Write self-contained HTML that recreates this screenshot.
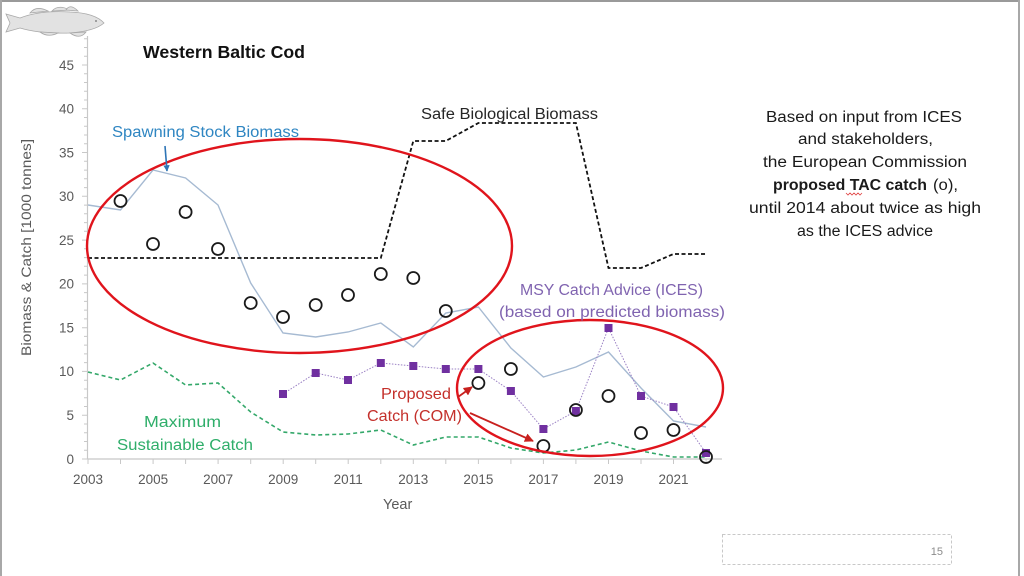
<!DOCTYPE html>
<html><head><meta charset="utf-8"><style>
html,body{margin:0;padding:0;background:#fff;}
svg{display:block;}
text{font-family:"Liberation Sans",sans-serif;}
</style></head><body>
<svg width="1024" height="576" viewBox="0 0 1024 576" xmlns="http://www.w3.org/2000/svg">
<defs>
<marker id="ar" viewBox="0 0 10 10" refX="9" refY="5" markerWidth="5" markerHeight="5" orient="auto"><path d="M0,0 L10,5 L0,10 z" fill="#c8201e"/></marker>
<marker id="ab" viewBox="0 0 10 10" refX="9" refY="5" markerWidth="4" markerHeight="4" orient="auto"><path d="M0,0 L10,5 L0,10 z" fill="#2e75b6"/></marker>
</defs>
<rect width="1024" height="576" fill="#fff"/>
<!-- borders -->
<line x1="0" y1="1" x2="1020" y2="1" stroke="#9a9a9a" stroke-width="2"/>
<line x1="1" y1="0" x2="1" y2="576" stroke="#a8a8a8" stroke-width="2"/>
<line x1="1019" y1="0" x2="1019" y2="576" stroke="#a8a8a8" stroke-width="2"/>

<!-- fish -->
<g stroke="#a8a8a8" stroke-width="0.8" fill="#e2e2e2">
<path d="M6,14 L20,18 Q40,10 70,12 Q95,13 104,23 Q95,31 70,33 Q40,34 20,28 L6,32 L10,23 Z"/>
<path d="M30,13 Q36,5 48,11 Z"/>
<path d="M52,11 Q58,4 70,10 Z"/>
<path d="M66,10 Q70,3 78,11 Z"/>
<path d="M40,32 Q48,38 58,33 Z"/>
<path d="M70,33 Q80,40 86,32 Z"/>
</g>
<circle cx="96" cy="21" r="1" fill="#888"/>

<!-- title -->
<text x="143" y="58" font-size="17.5" font-weight="bold" fill="#111" textLength="162" lengthAdjust="spacingAndGlyphs">Western Baltic Cod</text>

<!-- y axis -->
<g stroke="#c8c8c8" stroke-width="1.2">
<line x1="87.5" y1="36" x2="87.5" y2="459"/>
<line x1="87.5" y1="459" x2="722" y2="459"/>
</g>
<g stroke="#c8c8c8" stroke-width="1">
<path d="M84,450.2H87.5M84,441.5H87.5M84,432.7H87.5M84,424H87.5M84,406.5H87.5M84,397.7H87.5M84,389H87.5M84,380.2H87.5M84,362.6H87.5M84,353.9H87.5M84,345.1H87.5M84,336.4H87.5M84,318.9H87.5M84,310.1H87.5M84,301.4H87.5M84,292.6H87.5M84,275.1H87.5M84,266.3H87.5M84,257.6H87.5M84,248.8H87.5M84,231.3H87.5M84,222.6H87.5M84,213.8H87.5M84,205.1H87.5M84,187.6H87.5M84,178.8H87.5M84,170.1H87.5M84,161.3H87.5M84,143.8H87.5M84,135H87.5M84,126.3H87.5M84,117.5H87.5M84,100H87.5M84,91.3H87.5M84,82.5H87.5M84,73.8H87.5M84,56.2H87.5M84,47.5H87.5M84,38.7H87.5"/>
<path d="M82,459H87.5M82,415.2H87.5M82,371.4H87.5M82,327.7H87.5M82,283.9H87.5M82,240.1H87.5M82,196.3H87.5M82,152.5H87.5M82,108.8H87.5M82,65H87.5"/>
<path d="M88,459V464M120.5,459V464M153.1,459V464M185.6,459V464M218.1,459V464M250.7,459V464M283.2,459V464M315.7,459V464M348.2,459V464M380.8,459V464M413.3,459V464M445.8,459V464M478.4,459V464M510.9,459V464M543.4,459V464M575.9,459V464M608.5,459V464M641,459V464M673.5,459V464M706.1,459V464"/>
</g>
<g font-size="13.5" fill="#5a5a5a" text-anchor="end">
<text x="74" y="464">0</text>
<text x="74" y="420">5</text>
<text x="74" y="376">10</text>
<text x="74" y="332.5">15</text>
<text x="74" y="288.7">20</text>
<text x="74" y="245">25</text>
<text x="74" y="201">30</text>
<text x="74" y="157.3">35</text>
<text x="74" y="113.5">40</text>
<text x="74" y="69.8">45</text>
</g>
<g font-size="13.5" fill="#5a5a5a" text-anchor="middle">
<text x="88" y="484">2003</text>
<text x="153.1" y="484">2005</text>
<text x="218.1" y="484">2007</text>
<text x="283.2" y="484">2009</text>
<text x="348.2" y="484">2011</text>
<text x="413.3" y="484">2013</text>
<text x="478.4" y="484">2015</text>
<text x="543.4" y="484">2017</text>
<text x="608.5" y="484">2019</text>
<text x="673.5" y="484">2021</text>
</g>
<text x="383" y="509" font-size="14.5" fill="#5a5a5a">Year</text>
<text transform="translate(31,356) rotate(-90)" font-size="14" fill="#5a5a5a" textLength="217" lengthAdjust="spacingAndGlyphs">Biomass &amp; Catch  [1000 tonnes]</text>

<!-- SSB -->
<polyline fill="none" stroke="#a6bad2" stroke-width="1.4" points="88,205 120.5,210 153,170 185.6,178 218,205 250.7,283 283,333 315.7,337 348,332 380.8,323 413.3,347 445.8,313 478.4,307 510.9,348 543.4,377 575.9,367 608.5,352 641,388 673.5,421 706,427"/>

<!-- MSC green -->
<polyline fill="none" stroke="#34a86a" stroke-width="1.6" stroke-dasharray="4,3" points="88,372 120.5,380 153,363 185.6,385 218,383 250.7,412 283,432 315.7,435 348,434 380.8,430 413.3,445 445.8,437 478.4,437 510.9,448 543.4,453 575.9,450 608.5,442 641,451 673.5,457 706,457"/>

<!-- Safe biomass -->
<polyline fill="none" stroke="#111" stroke-width="1.8" stroke-dasharray="4,2.5" points="88,258 380.8,258 413.3,141 445.8,141 478.4,123 575.9,123 608.5,268 641,268 673.5,254 706,254"/>

<!-- MSY advice -->
<polyline fill="none" stroke="#9a80c4" stroke-width="1" stroke-dasharray="1.5,1.5" points="283,394 315.7,373 348,380 380.8,363 413.3,366 445.8,369 478.4,369 510.9,391 543.4,429 575.9,411 608.5,328 641,396 673.5,407 706,453"/>
<g fill="#7030a0">
<rect x="279" y="390" width="8" height="8"/>
<rect x="311.7" y="369" width="8" height="8"/>
<rect x="344" y="376" width="8" height="8"/>
<rect x="376.8" y="359" width="8" height="8"/>
<rect x="409.3" y="362" width="8" height="8"/>
<rect x="441.8" y="365" width="8" height="8"/>
<rect x="474.4" y="365" width="8" height="8"/>
<rect x="506.9" y="387" width="8" height="8"/>
<rect x="539.4" y="425" width="8" height="8"/>
<rect x="571.9" y="407" width="8" height="8"/>
<rect x="604.5" y="324" width="8" height="8"/>
<rect x="637" y="392" width="8" height="8"/>
<rect x="669.5" y="403" width="8" height="8"/>
<rect x="702" y="449" width="8" height="8"/>
</g>

<!-- TAC circles -->
<g fill="none" stroke="#1a1a1a" stroke-width="1.8">
<circle cx="120.5" cy="201" r="6"/>
<circle cx="153" cy="244" r="6"/>
<circle cx="185.6" cy="212" r="6"/>
<circle cx="218" cy="249" r="6"/>
<circle cx="250.7" cy="303" r="6"/>
<circle cx="283" cy="317" r="6"/>
<circle cx="315.7" cy="305" r="6"/>
<circle cx="348" cy="295" r="6"/>
<circle cx="380.8" cy="274" r="6"/>
<circle cx="413.3" cy="278" r="6"/>
<circle cx="445.8" cy="311" r="6"/>
<circle cx="478.4" cy="383" r="6"/>
<circle cx="510.9" cy="369" r="6"/>
<circle cx="543.4" cy="446" r="6"/>
<circle cx="575.9" cy="410" r="6"/>
<circle cx="608.5" cy="396" r="6"/>
<circle cx="641" cy="433" r="6"/>
<circle cx="673.5" cy="430" r="6"/>
<circle cx="706" cy="457" r="6"/>
</g>

<!-- red ellipses -->
<ellipse cx="299.5" cy="246" rx="212.5" ry="107" fill="none" stroke="#e0141c" stroke-width="2.4"/>
<ellipse cx="590" cy="388" rx="133" ry="68" fill="none" stroke="#e0141c" stroke-width="2.4"/>

<!-- arrows -->
<line x1="165" y1="146" x2="167" y2="171" stroke="#2e75b6" stroke-width="1.6" marker-end="url(#ab)"/>
<line x1="458" y1="397" x2="472" y2="387" stroke="#c8201e" stroke-width="1.8" marker-end="url(#ar)"/>
<line x1="470" y1="413" x2="533" y2="441" stroke="#c8201e" stroke-width="1.8" marker-end="url(#ar)"/>

<!-- series labels -->
<text x="112" y="137" font-size="15.5" fill="#2f86c2" textLength="187" lengthAdjust="spacingAndGlyphs">Spawning Stock Biomass</text>
<text x="421" y="119" font-size="15.5" fill="#262626" textLength="177" lengthAdjust="spacingAndGlyphs">Safe Biological Biomass</text>
<text x="520" y="295" font-size="15.5" fill="#8064b0" textLength="183" lengthAdjust="spacingAndGlyphs">MSY Catch Advice (ICES)</text>
<text x="499" y="317" font-size="15.5" fill="#8064b0" textLength="226" lengthAdjust="spacingAndGlyphs">(based on predicted biomass)</text>
<text x="381" y="399" font-size="16" fill="#c4302b" textLength="70" lengthAdjust="spacingAndGlyphs">Proposed</text>
<text x="367" y="421" font-size="16" fill="#c4302b" textLength="95" lengthAdjust="spacingAndGlyphs">Catch (COM)</text>
<text x="144" y="427" font-size="15.5" fill="#2fae6a" textLength="77" lengthAdjust="spacingAndGlyphs">Maximum</text>
<text x="117" y="450" font-size="15.5" fill="#2fae6a" textLength="136" lengthAdjust="spacingAndGlyphs">Sustainable Catch</text>

<!-- right text block -->
<g font-size="15.5" fill="#1a1a1a">
<text x="766" y="122" textLength="196" lengthAdjust="spacingAndGlyphs">Based on input from ICES</text>
<text x="798" y="144" textLength="135" lengthAdjust="spacingAndGlyphs">and stakeholders,</text>
<text x="763" y="167" textLength="204" lengthAdjust="spacingAndGlyphs">the European Commission</text>
<text x="773" y="190" font-weight="bold" textLength="154" lengthAdjust="spacingAndGlyphs">proposed TAC catch</text>
<text x="933" y="190" textLength="25" lengthAdjust="spacingAndGlyphs">(o),</text>
<text x="749" y="213" textLength="232" lengthAdjust="spacingAndGlyphs">until 2014 about twice as high</text>
<text x="797" y="236" textLength="136" lengthAdjust="spacingAndGlyphs">as the ICES advice</text>
</g>
<polyline fill="none" stroke="#e04040" stroke-width="0.8" points="846,193 848,195 850,193 852,195 854,193 856,195 858,193 860,195 862,193"/>

<!-- page number box -->
<rect x="722.5" y="534.5" width="229" height="30" fill="none" stroke="#c8c8c8" stroke-width="1" stroke-dasharray="3,2"/>
<text x="943" y="555" font-size="11" fill="#8c8c8c" text-anchor="end">15</text>
</svg>
</body></html>
